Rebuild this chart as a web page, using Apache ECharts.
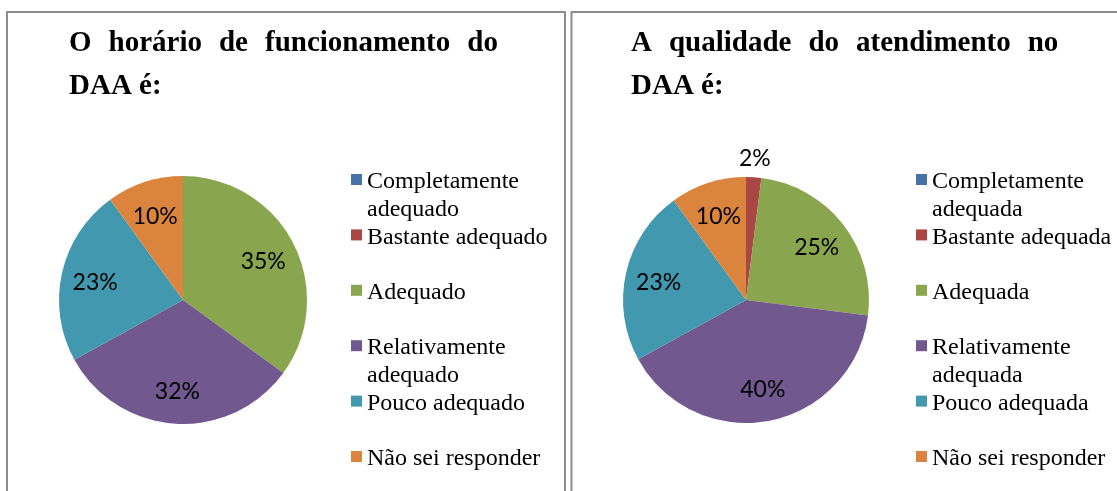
<!DOCTYPE html>
<html>
<head>
<meta charset="utf-8">
<script src="https://cdn.jsdelivr.net/npm/echarts@6/dist/echarts.min.js"></script>
<style>
html,body{margin:0;padding:0;background:#fff;}
#c{width:1117px;height:491px;}
</style>
</head>
<body>
<div id="c"></div>
<script>
// ---- data ----
const titleLeft = ['O', 'horário', 'de', 'funcionamento', 'do'];
const titleLeft2 = 'DAA é:';
const titleRight = ['A', 'qualidade', 'do', 'atendimento', 'no'];
const titleRight2 = 'DAA é:';
const categoriesLeft = ['Completamente adequado', 'Bastante adequado', 'Adequado', 'Relativamente adequado', 'Pouco adequado', 'Não sei responder'];
const categoriesRight = ['Completamente adequada', 'Bastante adequada', 'Adequada', 'Relativamente adequada', 'Pouco adequada', 'Não sei responder'];
const valuesLeft = [0, 0, 35, 32, 23, 10];
const valuesRight = [0, 2, 25, 40, 23, 10];
const colors = ['#4572A7', '#AA4643', '#89A54E', '#71588F', '#4198AF', '#DB843D'];

// ---- helpers ----
function mainData(cats, vals) {
  return cats.map((n, i) => ({ name: n, value: vals[i] }));
}
function labelData(cats, vals) {
  return cats.map((n, i) => {
    const small = vals[i] > 0 && vals[i] < 5;
    return {
      name: n, value: vals[i],
      label: { show: vals[i] > 0, position: small ? 'outside' : 'inside' },
      labelLine: { show: false, length: 19, length2: 0 }
    };
  });
}
function legendFmt(name) {
  return name.length > 18 ? name.replace(' ', '\n') : name + '\n';
}
const legendIcon = 'path://M0,0L0,0M0,6h11v11h-11zM0,55.4L0,55.4';
const legendBase = {
  orient: 'vertical', top: 168, height: 400, padding: 0,
  itemWidth: 11, itemHeight: 55.4, itemGap: 0,
  icon: legendIcon, selectedMode: false,
  itemStyle: { borderWidth: 0 },
  formatter: legendFmt,
  textStyle: { fontFamily: 'Liberation Serif', fontSize: 24, lineHeight: 27.7, color: '#000' }
};
const titleBase = {
  top: 22, padding: 0,
  textStyle: {
    fontFamily: 'Liberation Serif', fontWeight: 'bold', fontSize: 29, lineHeight: 43, color: '#000',
    rich: { g: { width: 17, fontFamily: 'Liberation Serif', fontWeight: 'bold', fontSize: 29, lineHeight: 43 } }
  }
};
const pieLabel = {
  show: true, formatter: p => p.value + '%',
  fontFamily: 'Lato', fontSize: 23, color: '#000'
};
function placeLabel(params) {
  // center outside labels horizontally above the slice edge; nudge inside labels
  if (params.align === 'left') return { dx: -params.labelRect.width / 2 - 5 };
  if (params.align === 'right') return { dx: params.labelRect.width / 2 + 5 };
  return { dy: 2 };
}

const chart = echarts.init(document.getElementById('c'), null, { renderer: 'canvas' });
chart.setOption({
  animation: false,
  color: colors,
  graphic: [
    { type: 'rect', shape: { x: 7, y: 12, width: 558, height: 520 }, style: { fill: 'none', stroke: '#8c8c8c', lineWidth: 2 }, silent: true },
    { type: 'rect', shape: { x: 571.5, y: 12, width: 560, height: 520 }, style: { fill: 'none', stroke: '#8c8c8c', lineWidth: 2 }, silent: true }
  ],
  title: [
    Object.assign({}, titleBase, { left: 69, text: titleLeft.join('{g| }') + '\n' + titleLeft2 }),
    Object.assign({}, titleBase, { left: 631, text: titleRight.join('{g| }') + '\n' + titleRight2 })
  ],
  legend: [
    Object.assign({}, legendBase, { left: 351, data: categoriesLeft }),
    Object.assign({}, legendBase, { left: 916, data: categoriesRight })
  ],
  series: [
    {
      type: 'pie', center: [183, 300], radius: [0, 124], startAngle: 90, clockwise: true,
      label: { show: false }, labelLine: { show: false }, silent: true,
      itemStyle: { borderWidth: 0 },
      data: mainData(categoriesLeft, valuesLeft)
    },
    {
      type: 'pie', center: [746, 300], radius: [0, 123], startAngle: 90, clockwise: true,
      label: { show: false }, labelLine: { show: false }, silent: true,
      itemStyle: { borderWidth: 0 },
      data: mainData(categoriesRight, valuesRight)
    },
    {
      type: 'pie', center: [183, 300], radius: [50, 124], startAngle: 90, clockwise: true,
      silent: true, legendHoverLink: false, avoidLabelOverlap: false,
      itemStyle: { color: 'rgba(0,0,0,0)', borderWidth: 0 },
      label: pieLabel, labelLayout: placeLabel,
      data: labelData(categoriesLeft, valuesLeft)
    },
    {
      type: 'pie', center: [746, 300], radius: [50, 123], startAngle: 90, clockwise: true,
      silent: true, legendHoverLink: false, avoidLabelOverlap: false,
      itemStyle: { color: 'rgba(0,0,0,0)', borderWidth: 0 },
      label: pieLabel, labelLayout: placeLabel,
      data: labelData(categoriesRight, valuesRight)
    }
  ]
});
</script>
</body>
</html>
